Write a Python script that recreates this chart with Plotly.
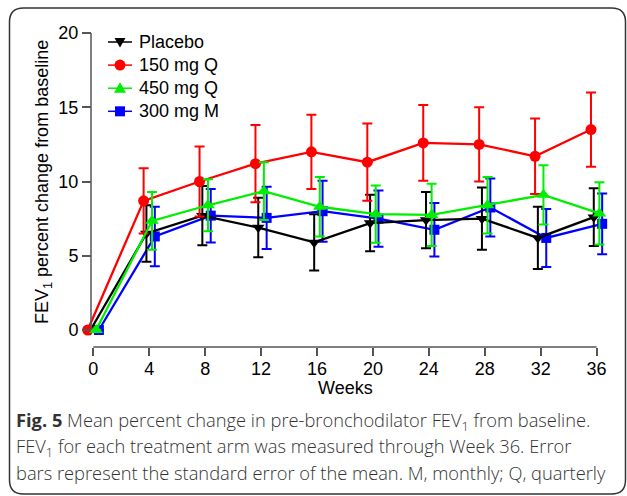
import plotly.graph_objects as go

# ---- data ----
weeks = [0, 4, 8, 12, 16, 20, 24, 28, 32, 36]
placebo = [0, 6.5, 7.7, 6.9, 5.9, 7.2, 7.4, 7.5, 6.2, 7.6]
placebo_se = [0, 1.9, 2.0, 2.0, 1.9, 1.9, 1.9, 2.1, 2.1, 1.95]
q150 = [0, 8.7, 10.0, 11.2, 12.0, 11.3, 12.6, 12.5, 11.7, 13.5]
q150_se = [0, 2.2, 2.35, 2.6, 2.5, 2.6, 2.55, 2.5, 2.55, 2.5]
q450 = [0, 7.35, 8.4, 9.35, 8.3, 7.8, 7.75, 8.4, 9.1, 7.85]
q450_se = [0, 1.95, 1.75, 1.95, 2.0, 1.93, 2.1, 1.9, 2.0, 2.1]
m300 = [0, 6.3, 7.7, 7.55, 8.0, 7.5, 6.75, 8.25, 6.2, 7.15]
m300_se = [0, 2.0, 1.8, 2.1, 2.05, 1.9, 1.8, 1.95, 1.95, 2.05]
x_ticks = [0, 4, 8, 12, 16, 20, 24, 28, 32, 36]
y_ticks = [0, 5, 10, 15, 20]
legend_order = ["Placebo", "150 mg Q", "450 mg Q", "300 mg M"]

# ---- geometry (pixels) ----
W, H = 627, 496
L, R, T, B = 82, 612, 20, 347
YAX = 91                  # y axis line position (px)
X0PX, XPW = 93.3, 13.98   # px of week 0, px per week
Y0PX, YPU = 330, 14.85    # px of value 0, px per unit
AX_FONT = "Liberation Sans"
CAP_FONT = "Open Sans"
AXC = "#555555"


def px(xp):
    return (xp - L) / (R - L)


def py(yp):
    return (B - yp) / (B - T)


series = {
    # name: y, se, color, symbol, size, offset
    "300 mg M": (m300, m300_se, "#0000ff", "square", 10, 0.4),
    "Placebo": (placebo, placebo_se, "#000000", "triangle-down", 11, -0.2),
    "150 mg Q": (q150, q150_se, "#ff0000", "circle", 11, -0.4),
    "450 mg Q": (q450, q450_se, "#00ee00", "triangle-up", 12, 0.2),
}

fig = go.Figure()
for name, (y, se, col, sym, size, off) in series.items():
    fig.add_trace(go.Scatter(
        x=[w + off for w in weeks], y=y, name=name, mode="lines+markers",
        line=dict(color=col, width=2.3),
        marker=dict(color=col, symbol=sym, size=size),
        error_y=dict(type="data", array=se, visible=True, color=col,
                     thickness=2, width=5),
        cliponaxis=False, showlegend=False,
    ))

shapes = [
    # y axis line (0..20)
    dict(type="line", xref="paper", yref="y", x0=px(YAX), x1=px(YAX), y0=0, y1=20,
         line=dict(color=AXC, width=1.5)),
    # x axis line (0..36)
    dict(type="line", xref="x", yref="paper", x0=0, x1=36, y0=0, y1=0,
         line=dict(color=AXC, width=1.5)),
]
# rounded frame
fx0, fx1, fy0, fy1, rr = 9.5, 625.5, 8, 494, 14
path = (f"M{px(fx0 + rr)},{py(fy0)} L{px(fx1 - rr)},{py(fy0)} "
        f"Q{px(fx1)},{py(fy0)} {px(fx1)},{py(fy0 + rr)} "
        f"L{px(fx1)},{py(fy1 - rr)} Q{px(fx1)},{py(fy1)} {px(fx1 - rr)},{py(fy1)} "
        f"L{px(fx0 + rr)},{py(fy1)} Q{px(fx0)},{py(fy1)} {px(fx0)},{py(fy1 - rr)} "
        f"L{px(fx0)},{py(fy0 + rr)} Q{px(fx0)},{py(fy0)} {px(fx0 + rr)},{py(fy0)} Z")
shapes.append(dict(type="path", xref="paper", yref="paper", path=path,
                   line=dict(color="#333333", width=1.5)))

annotations = [
    dict(text="FEV<sub>1</sub> percent change from baseline", textangle=-90,
         xref="paper", yref="paper", x=px(43), y=py(182), showarrow=False,
         xanchor="center", yanchor="middle",
         font=dict(family=AX_FONT, size=18, color="#000")),
    dict(text="Weeks", xref="paper", yref="paper", x=px(345), y=py(388),
         showarrow=False, xanchor="center", yanchor="middle",
         font=dict(family=AX_FONT, size=18, color="#000")),
]

# manual legend
LG_X0, LG_X1, LG_TX, LG_Y0, LG_DY = 108, 132, 137, 42, 23.1
for i, name in enumerate(legend_order):
    _, _, col, sym, size, _ = series[name]
    yc = LG_Y0 + LG_DY * i
    mx = (LG_X0 + LG_X1) / 2
    shapes.append(dict(type="line", xref="paper", yref="paper",
                       x0=px(LG_X0), x1=px(LG_X1), y0=py(yc), y1=py(yc),
                       line=dict(color=col, width=1.5)))
    h = size / 2
    if sym == "circle":
        shapes.append(dict(type="circle", xref="paper", yref="paper",
                           x0=px(mx - h), x1=px(mx + h), y0=py(yc - h), y1=py(yc + h),
                           fillcolor=col, line=dict(width=0)))
    elif sym == "square":
        shapes.append(dict(type="rect", xref="paper", yref="paper",
                           x0=px(mx - h), x1=px(mx + h), y0=py(yc - h), y1=py(yc + h),
                           fillcolor=col, line=dict(width=0)))
    else:
        s = 1 if sym == "triangle-up" else -1
        p = (f"M{px(mx - h)},{py(yc + s * h * 0.75)} L{px(mx + h)},{py(yc + s * h * 0.75)} "
             f"L{px(mx)},{py(yc - s * h)} Z")
        shapes.append(dict(type="path", xref="paper", yref="paper", path=p,
                           fillcolor=col, line=dict(width=0)))
    annotations.append(dict(text=name, xref="paper", yref="paper", x=px(LG_TX),
                            y=py(yc), showarrow=False, xanchor="left",
                            yanchor="middle",
                            font=dict(family=AX_FONT, size=18, color="#000")))

caption = [
    "<b>Fig. 5</b> Mean percent change in pre-bronchodilator FEV<sub>1</sub> from baseline.",
    "FEV<sub>1</sub> for each treatment arm was measured through Week 36. Error",
    "bars represent the standard error of the mean. M, monthly; Q, quarterly",
]
for i, line in enumerate(caption):
    annotations.append(dict(
        text=line, xref="paper", yref="paper", x=px(14), y=py(421 + 25.5 * i),
        showarrow=False, xanchor="left", yanchor="middle", align="left",
        font=dict(family=CAP_FONT, size=18.3, color="#333333", weight=300)))

fig.update_layout(
    width=W, height=H,
    margin=dict(l=L, r=W - R, t=T, b=H - B, pad=0),
    paper_bgcolor="white", plot_bgcolor="white",
    showlegend=False,
    xaxis=dict(range=[(L - X0PX) / XPW, (R - X0PX) / XPW],
               tickvals=x_ticks, ticks="outside", ticklen=8, tickwidth=1.5,
               tickcolor=AXC, showline=False, showgrid=False, zeroline=False,
               ticklabelstandoff=-3,
               tickfont=dict(family=AX_FONT, size=18, color="#000")),
    yaxis=dict(range=[-(B - Y0PX) / YPU, (Y0PX - T) / YPU],
               anchor="free", position=px(YAX),
               tickvals=y_ticks, ticks="outside", ticklen=9, tickwidth=1.5,
               tickcolor=AXC, showline=False, showgrid=False, zeroline=False,
               tickfont=dict(family=AX_FONT, size=18, color="#000")),
    shapes=shapes, annotations=annotations,
)

fig.write_html("out.html")
